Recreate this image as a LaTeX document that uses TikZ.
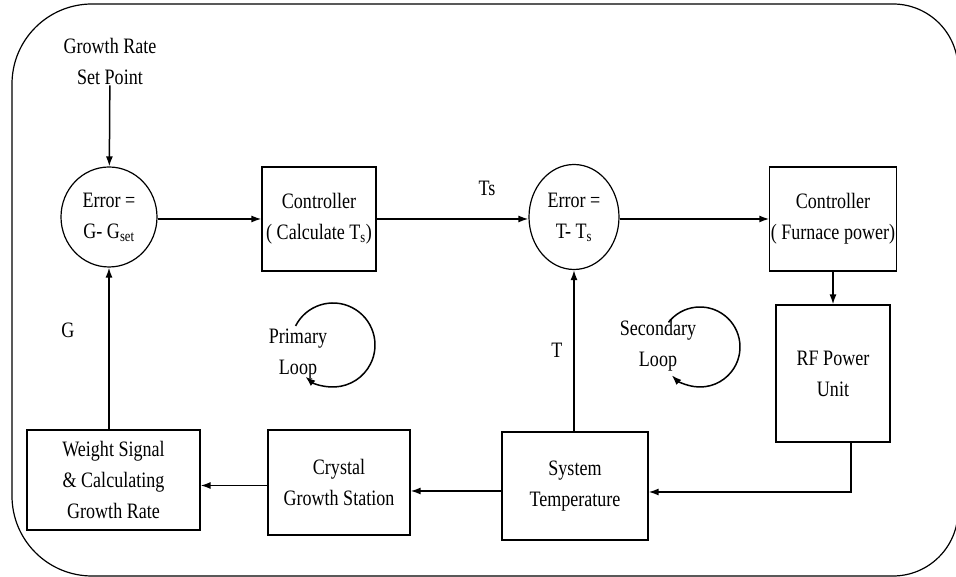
\documentclass[tikz,border=0pt]{standalone}
\usepackage{fontspec}
\setmainfont[FakeStretch=0.82]{Liberation Serif}
\usetikzlibrary{arrows.meta,positioning,calc,shapes.geometric}
\tikzset{
  block/.style   = {draw, line width=1.2pt, rectangle, minimum width=114pt,
                    minimum height=104pt, align=center, inner sep=1pt},
  errnode/.style = {draw, line width=1.2pt, ellipse, inner sep=0pt, align=center},
  sig/.style     = {-{Latex[length=10pt,width=7pt]}, line width=1.5pt},
  lbl/.style     = {align=center, inner sep=1pt},
}
\begin{document}
\begin{tikzpicture}[x=10pt,y=10pt,font=\fontsize{22}{31}\selectfont]
\useasboundingbox (0,0) rectangle (95.6,57.7);
% outer frame
\draw[line width=1.2pt,rounded corners=80pt] (1.2,30) |- (50,57.3)
  [rounded corners=65pt] -| (95.8,28) |- (50,0.1)
  [rounded corners=80pt] -| (1.2,30);
% nodes
\node[lbl] (gset) at (11.0,51.6) {Growth Rate\\Set Point};
\node[errnode,minimum width=96pt,minimum height=100pt] (e1) at (10.9,36.0)
  {Error =\\G- G\textsubscript{set}};
\node[block] (c1) at (31.9,35.8) {Controller\\( Calculate T\textsubscript{s})};
\node[errnode,minimum width=90pt,minimum height=105pt] (e2) at (57.4,36.0)
  {Error =\\T- T\textsubscript{s}};
\node[block] (c2) at (83.3,35.8) {Controller\\( Furnace power)};
\node[block,minimum height=137pt] (rf) at (83.3,20.35) {RF Power\\Unit};
\node[block,minimum width=146pt,minimum height=108pt] (st) at (57.5,9.1) {System\\Temperature};
\node[block,minimum width=142pt,minimum height=105pt] (cg) at (33.9,9.45) {Crystal\\Growth Station};
\node[block,minimum width=173pt,minimum height=100pt] (wg) at (11.35,9.7)
  {Weight Signal\\\& Calculating\\Growth Rate};
% signal labels
\node[lbl] (ts) at (48.7,38.9) {Ts};
\node[lbl] (t) at (55.7,22.7) {T};
\node[lbl] (g) at (6.8,24.7) {G};
% connectors
\draw[sig] (gset) -- (e1);
\draw[sig] (e1.east |- c1) -- (c1.west);
\draw[sig] (c1.east) -- (c1.east -| e2.west);
\draw[sig] (e2.east |- c2) -- (c2.west);
\draw[sig] (c2) -- (rf);
\draw[sig] ([xshift=18pt]rf.south) |- ([yshift=-6pt]st.east);
\draw[sig] (st.north -| e2) -- (e2.south);
\draw[sig] ([yshift=-5pt]st.west) -- ([yshift=-5pt]st.west -| cg.east);
\draw[sig] ([yshift=-3pt]cg.west) -- ([yshift=-3pt]cg.west -| wg.east);
\draw[sig] (wg.north -| e1) -- (e1.south);
% loops
\coordinate (ploop) at (33.3,23.2);
\coordinate (sloop) at (70.0,23.0);
\node[lbl] (plbl) at (29.8,22.3) {Primary\\Loop};
\node[lbl] (slbl) at (65.8,23.1) {Secondary\\Loop};
\draw[sig] ([shift={(153:42pt)}]ploop) arc[start angle=153,end angle=-131,radius=42pt];
\draw[sig] ([shift={(142:40pt)}]sloop) arc[start angle=142,end angle=-135,radius=40pt];
\end{tikzpicture}
\end{document}
